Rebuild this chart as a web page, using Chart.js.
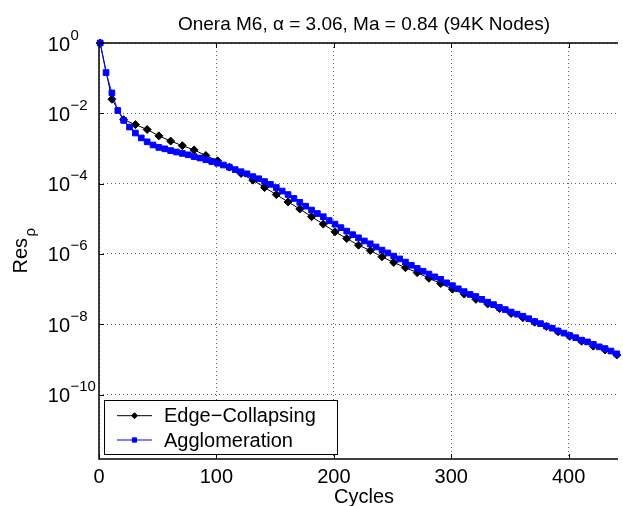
<!DOCTYPE html>
<html>
<head>
<meta charset="utf-8">
<script src="https://cdn.jsdelivr.net/npm/chart.js@4/dist/chart.umd.min.js"></script>
<style>
  html, body { margin: 0; padding: 0; background: #fff; overflow: hidden; }
  #wrap { width: 623px; height: 506px; }
</style>
</head>
<body>
<div id="wrap"><canvas id="c" width="623" height="506"></canvas></div>
<script>
// cycles where markers sit
const cyclesAgglo = [1, 6, 11, 16, 21, 26, 31, 36, 41, 46, 51, 56, 61, 66, 71, 76, 81, 86, 91, 96,
  101, 106, 111, 116, 121, 126, 131, 136, 141, 146, 151, 156, 161, 166, 171, 176, 181, 186, 191, 196,
  201, 206, 211, 216, 221, 226, 231, 236, 241, 246, 251, 256, 261, 266, 271, 276, 281, 286, 291, 296,
  301, 306, 311, 316, 321, 326, 331, 336, 341, 346, 351, 356, 361, 366, 371, 376, 381, 386, 391, 396,
  401, 406, 411, 416, 421, 426, 431, 436, 441];
const cyclesEdge = [1, 11, 21, 31, 41, 51, 61, 71, 81, 91, 101, 111, 121, 131, 141, 151, 161, 171, 181,
  191, 201, 211, 221, 231, 241, 251, 261, 271, 281, 291, 301, 311, 321, 331, 341, 351, 361, 371, 381,
  391, 401, 411, 421, 431, 441];

// residual exponents (log10 of Res_rho)
const aggloExp = [0, -0.84, -1.42, -1.92, -2.20, -2.39, -2.56, -2.70, -2.81, -2.90, -2.97, -3.01, -3.06,
  -3.10, -3.14, -3.18, -3.23, -3.27, -3.32, -3.37, -3.42, -3.47, -3.53, -3.60, -3.66, -3.72, -3.80,
  -3.86, -3.94, -4.02, -4.11, -4.21, -4.31, -4.42, -4.53, -4.64, -4.75, -4.85, -4.94, -5.05, -5.15,
  -5.25, -5.35, -5.45, -5.54, -5.63, -5.71, -5.80, -5.89, -5.97, -6.06, -6.14, -6.23, -6.32, -6.41,
  -6.49, -6.57, -6.65, -6.72, -6.82, -6.90, -6.99, -7.07, -7.15, -7.21, -7.29, -7.37, -7.44, -7.52,
  -7.58, -7.65, -7.71, -7.77, -7.84, -7.92, -7.98, -8.05, -8.11, -8.19, -8.25, -8.32, -8.38, -8.45,
  -8.50, -8.57, -8.64, -8.69, -8.76, -8.84];
const edgeExp = [0, -1.60, -2.18, -2.32, -2.46, -2.64, -2.79, -2.92, -3.04, -3.20, -3.35, -3.53, -3.71,
  -3.90, -4.11, -4.31, -4.52, -4.72, -4.94, -5.15, -5.37, -5.56, -5.75, -5.90, -6.08, -6.24, -6.39,
  -6.53, -6.69, -6.84, -7.00, -7.14, -7.29, -7.42, -7.55, -7.69, -7.81, -7.94, -8.06, -8.21, -8.34,
  -8.48, -8.62, -8.73, -8.87];

const xTicks = [0, 100, 200, 300, 400];
const yTickExp = [0, -2, -4, -6, -8, -10];

const titleText = 'Onera M6, \u03b1 = 3.06, Ma = 0.84 (94K Nodes)';
const xLabel = 'Cycles';
const seriesNames = ['Edge\u2212Collapsing', 'Agglomeration'];

const FONT = '"Liberation Sans", Arial, Helvetica, sans-serif';

const toPoints = (xs, exps) => xs.map((x, i) => ({ x, y: Math.pow(10, exps[i]) }));

// axes frame, MATLAB-like tick labels, title and legend
const decor = {
  id: 'decor',
  afterDraw(chart) {
    const { ctx, chartArea: a, scales } = chart;
    const xs = scales.x, ys = scales.y;
    ctx.save();

    ctx.strokeStyle = '#000';
    ctx.setLineDash([]);
    ctx.lineWidth = 1.5;
    ctx.beginPath();
    ctx.moveTo(a.left, a.top);
    ctx.lineTo(a.right, a.top);
    ctx.moveTo(a.left, a.top);
    ctx.lineTo(a.left, a.bottom);
    ctx.lineTo(a.right, a.bottom);
    ctx.stroke();
    ctx.lineWidth = 1;
    ctx.beginPath();
    xTicks.forEach(v => {
      const px = Math.round(xs.getPixelForValue(v)) + 0.5;
      ctx.moveTo(px, a.bottom); ctx.lineTo(px, a.bottom - 5);
      ctx.moveTo(px, a.top); ctx.lineTo(px, a.top + 5);
    });
    yTickExp.forEach(e => {
      const py = Math.round(ys.getPixelForValue(Math.pow(10, e))) + 0.5;
      ctx.moveTo(a.left, py); ctx.lineTo(a.left + 5, py);
    });
    ctx.stroke();

    ctx.fillStyle = '#000';
    ctx.font = '20px ' + FONT;
    ctx.textAlign = 'center';
    ctx.textBaseline = 'alphabetic';
    xTicks.forEach(v => ctx.fillText(String(v), xs.getPixelForValue(v), a.bottom + 24));

    yTickExp.forEach(e => {
      const py = ys.getPixelForValue(Math.pow(10, e));
      ctx.font = '20px ' + FONT;
      ctx.textAlign = 'right';
      ctx.textBaseline = 'alphabetic';
      ctx.fillText('10', 70, py + 7.5);
      ctx.font = '15px ' + FONT;
      ctx.textAlign = 'left';
      ctx.fillText(e === 0 ? '0' : '\u2212' + Math.abs(e), 70.5, py - 3.5);
    });

    const cx = 364;
    ctx.font = '19px ' + FONT;
    ctx.textAlign = 'center';
    ctx.fillText(titleText, cx, 30);
    ctx.font = '20px ' + FONT;
    ctx.fillText(xLabel, cx, 503);

    ctx.save();
    ctx.translate(27, 273.5);
    ctx.rotate(-Math.PI / 2);
    ctx.textAlign = 'left';
    ctx.font = '20px ' + FONT;
    ctx.fillText('Res', 0, 0);
    ctx.font = '15px ' + FONT;
    ctx.fillText('\u03c1', 37, 8);
    ctx.restore();

    const lx = 104.5, ly = 400.5, lw = 233, lh = 54;
    ctx.fillStyle = '#fff';
    ctx.fillRect(lx, ly, lw, lh);
    ctx.strokeStyle = '#000';
    ctx.lineWidth = 1;
    ctx.strokeRect(lx, ly, lw, lh);
    const rows = [415.7, 440];
    chart.data.datasets.forEach((ds, i) => {
      const y = rows[i];
      ctx.strokeStyle = ds.borderColor;
      ctx.fillStyle = ds.backgroundColor;
      ctx.lineWidth = 1;
      ctx.beginPath();
      ctx.moveTo(117, y); ctx.lineTo(152, y);
      ctx.stroke();
      Chart.helpers.drawPoint(ctx, {
        pointStyle: ds.pointStyle, radius: ds.pointRadius * 0.75, rotation: 0, borderWidth: 1
      }, 134.5, y);
      ctx.fillStyle = '#000';
      ctx.font = '20px ' + FONT;
      ctx.textAlign = 'left';
      ctx.textBaseline = 'middle';
      ctx.fillText(seriesNames[i], 164, y + 1);
    });
    ctx.restore();
  }
};

const gridStyle = {
  color: 'rgba(0,0,0,0.6)',
  lineWidth: 1,
  drawTicks: false
};
const borderStyle = { display: false, dash: [1, 3] };

new Chart(document.getElementById('c'), {
  type: 'line',
  data: {
    datasets: [
      {
        label: seriesNames[0],
        data: toPoints(cyclesEdge, edgeExp),
        borderColor: '#000000',
        backgroundColor: '#000000',
        borderWidth: 1,
        pointStyle: 'rectRot',
        pointRadius: 4,
        pointBorderWidth: 1,
        order: 1,
        clip: 8
      },
      {
        label: seriesNames[1],
        data: toPoints(cyclesAgglo, aggloExp),
        borderColor: '#0000ff',
        backgroundColor: '#0000ff',
        borderWidth: 1,
        pointStyle: 'rect',
        pointRadius: 4,
        pointBorderWidth: 1,
        order: 0,
        clip: 8
      }
    ]
  },
  options: {
    responsive: false,
    animation: false,
    events: [],
    layout: { padding: { top: 43, right: 0, left: 0, bottom: 0 } },
    plugins: { legend: { display: false }, tooltip: { enabled: false }, title: { display: false } },
    scales: {
      x: {
        type: 'linear',
        min: 0,
        max: 442,
        afterBuildTicks: s => { s.ticks = xTicks.map(v => ({ value: v })); },
        afterFit: s => { s.height = 47; },
        ticks: { display: false },
        grid: { ...gridStyle },
        border: { ...borderStyle }
      },
      y: {
        type: 'logarithmic',
        min: 1.48e-12,
        max: 1,
        afterBuildTicks: s => { s.ticks = yTickExp.map(e => ({ value: Math.pow(10, e) })); },
        afterFit: s => { s.width = 99; },
        ticks: { display: false },
        grid: { ...gridStyle },
        border: { ...borderStyle }
      }
    }
  },
  plugins: [decor]
});
</script>
</body>
</html>
